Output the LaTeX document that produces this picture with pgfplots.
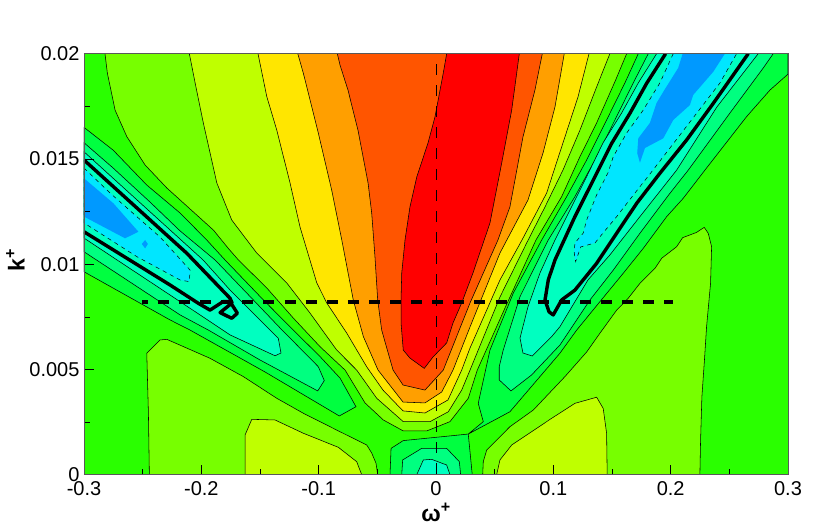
\documentclass[border=0pt]{standalone}
\usepackage{pgfplots}
\usepackage{fontspec}
\setmainfont{Liberation Sans}
\pgfplotsset{compat=1.18}

\definecolor{cGreen}{HTML}{2AFF00}
\definecolor{cLime}{HTML}{77FF00}
\definecolor{cYg}{HTML}{BFFF00}
\definecolor{cYellow}{HTML}{FFE600}
\definecolor{cOrange}{HTML}{FF9F00}
\definecolor{cOrRed}{HTML}{FF5500}
\definecolor{cRed}{HTML}{FF0000}
\definecolor{cL1}{HTML}{00FF40}
\definecolor{cL2}{HTML}{00FF80}
\definecolor{cL3}{HTML}{00FFC0}
\definecolor{cCyan}{HTML}{00E6FF}
\definecolor{cBlue}{HTML}{0099FF}

\pgfplotsset{
  lev/.style={fill=#1, draw=black, line width=0.55pt},
  levd/.style={fill=#1, draw=black, line width=0.5pt, dash pattern=on 4pt off 4pt},
  levn/.style={fill=#1, draw=none},
}

\begin{document}
\begin{tikzpicture}
\path[use as bounding box] (-84pt,-54.3pt) rectangle (746pt,474.7pt);
\begin{axis}[
  scale only axis, width=704pt, height=421pt,
  xmin=-0.3, xmax=0.3, ymin=0, ymax=0.02,
  axis on top,
  scaled x ticks=false, scaled y ticks=false,
  tick align=inside, xtick pos=bottom, ytick pos=left,
  xtick={-0.3,-0.2,-0.1,0,0.1,0.2,0.3},
  xticklabels={-0.3,-0.2,-0.1,0,0.1,0.2,0.3},
  ytick={0,0.005,0.01,0.015,0.02},
  yticklabels={0,0.005,0.01,0.015,0.02},
  minor x tick num=1, minor y tick num=1,
  major tick length=10pt, minor tick length=6pt,
  tick style={black, line width=0.5pt},
  axis line style={black!65, line width=0.8pt},
  tick label style={font=\fontsize{20}{24}\selectfont},
  xticklabel style={yshift=-3pt},
  yticklabel style={xshift=-1pt},
  xlabel={\textbf{ω\textsuperscript{+}}},
  ylabel={\textbf{k\textsuperscript{+}}},
  label style={font=\fontsize{23}{24}\selectfont},
  xlabel style={yshift=-1pt},
  ylabel style={yshift=-2pt, xshift=4pt},
]
% background level
\addplot[levn=cGreen] coordinates {(-0.3,0)(0.3,0)(0.3,0.02)(-0.3,0.02)} -- cycle;

% high side, outermost first
\addplot[lev=cLime] coordinates {(-0.2821,0.02)(-0.2801,0.01908)(-0.2735,0.01732)(-0.2635,0.01606)(-0.2479,0.01471)(-0.2294,0.01362)(-0.1897,0.01162)(-0.1770,0.01075)(-0.1684,0.01020)(-0.1442,0.00887)(-0.1216,0.00744)(-0.0988,0.00608)(-0.0775,0.00497)(-0.0605,0.00341)(-0.0449,0.00260)(-0.0279,0.00208)(-0.0079,0.00208)(0.0119,0.00252)(0.0275,0.00363)(0.0352,0.00497)(0.0588,0.00792)(0.0852,0.01115)(0.1071,0.01321)(0.1227,0.01511)(0.1369,0.01671)(0.1525,0.01867)(0.1625,0.02)} -- cycle;
\addplot[lev=cLime] coordinates {(-0.2443,0)(-0.2451,0.00292)(-0.2465,0.00577)(-0.2352,0.00640)(-0.2294,0.00643)(-0.1926,0.00553)(-0.1642,0.00466)(-0.1357,0.00363)(-0.1131,0.00292)(-0.0846,0.00212)(-0.0648,0.00157)(-0.0590,0.00141)(-0.0548,0.00103)(-0.0511,0.00054)(-0.0497,0)} -- cycle;
\addplot[lev=cLime] coordinates {(0.0398,0)(0.0403,0.00062)(0.0432,0.00117)(0.0630,0.00228)(0.0829,0.00307)(0.1099,0.00466)(0.1284,0.00583)(0.1397,0.00672)(0.1540,0.00782)(0.1638,0.00838)(0.1738,0.00909)(0.1866,0.00980)(0.1923,0.01028)(0.2051,0.01083)(0.2102,0.01126)(0.2221,0.01151)(0.2286,0.01175)(0.2320,0.01147)(0.2349,0.01083)(0.2340,0.00909)(0.2306,0.00703)(0.2288,0.00545)(0.2266,0.00369)(0.2255,0.00165)(0.2249,0)} -- cycle;

\addplot[lev=cYg] coordinates {(-0.2102,0.02)(-0.2053,0.01861)(-0.1983,0.01671)(-0.1868,0.01386)(-0.1741,0.01210)(-0.1528,0.01053)(-0.1272,0.00911)(-0.1074,0.00768)(-0.0846,0.00592)(-0.0676,0.00497)(-0.0505,0.00363)(-0.0279,0.00252)(-0.0051,0.00252)(0.0105,0.00299)(0.0219,0.00402)(0.0290,0.00497)(0.0545,0.00844)(0.0773,0.01101)(0.0929,0.01272)(0.1082,0.01447)(0.1227,0.01637)(0.1369,0.01842)(0.1482,0.02)} -- cycle;
\addplot[lev=cYg] coordinates {(-0.1627,0)(-0.1627,0.00189)(-0.1570,0.00263)(-0.1372,0.00260)(-0.1131,0.00197)(-0.0832,0.00130)(-0.0676,0.00062)(-0.0633,0)} -- cycle;
\addplot[lev=cYg] coordinates {(0.0517,0)(0.0545,0.00070)(0.0645,0.00141)(0.0986,0.00268)(0.1184,0.00339)(0.1369,0.00368)(0.1425,0.00315)(0.1454,0.00197)(0.1459,0)} -- cycle;

\addplot[lev=cYellow] coordinates {(-0.1517,0.02)(-0.1442,0.01796)(-0.1357,0.01637)(-0.1244,0.01386)(-0.1159,0.01177)(-0.1016,0.00911)(-0.0931,0.00816)(-0.0761,0.00673)(-0.0590,0.00512)(-0.0452,0.00402)(-0.0281,0.00303)(-0.0094,0.00293)(0.0102,0.00355)(0.0219,0.00497)(0.0290,0.00602)(0.0545,0.00925)(0.0733,0.01115)(0.0943,0.01338)(0.1082,0.01576)(0.1210,0.01794)(0.1304,0.02)} -- cycle;
\addplot[lev=cOrange] coordinates {(-0.1178,0.02)(-0.1131,0.01908)(-0.1003,0.01623)(-0.0889,0.01352)(-0.0803,0.01115)(-0.0705,0.00830)(-0.0619,0.00656)(-0.0494,0.00497)(-0.0281,0.00345)(-0.0094,0.00341)(0.0049,0.00393)(0.0145,0.00497)(0.0290,0.00702)(0.0545,0.01053)(0.0784,0.01305)(0.0912,0.01528)(0.1014,0.01747)(0.1093,0.02)} -- cycle;
\addplot[lev=cOrRed] coordinates {(-0.0841,0.02)(-0.0818,0.01946)(-0.0750,0.01827)(-0.0665,0.01637)(-0.0579,0.01386)(-0.0548,0.01243)(-0.0520,0.01034)(-0.0497,0.00830)(-0.0463,0.00687)(-0.0366,0.00497)(-0.0281,0.00426)(-0.0094,0.00402)(0.0062,0.00497)(0.0290,0.00816)(0.0528,0.01115)(0.0630,0.01272)(0.0741,0.01604)(0.0843,0.01827)(0.0906,0.02)} -- cycle;
\addplot[lev=cRed] coordinates {(0.0091,0.02)(0.0062,0.01908)(-0.0009,0.01699)(-0.0068,0.01576)(-0.0164,0.01414)(-0.0222,0.01272)(-0.0264,0.01115)(-0.0292,0.00958)(-0.0298,0.00830)(-0.0298,0.00721)(-0.0279,0.00592)(-0.0222,0.00554)(-0.0100,0.00505)(-0.0026,0.00559)(0.0091,0.00626)(0.0145,0.00721)(0.0219,0.00816)(0.0315,0.00958)(0.0460,0.01196)(0.0560,0.01481)(0.0645,0.01732)(0.0710,0.02)} -- cycle;

% low side, left ridge / right ridge / centre
\addplot[lev=cL1] coordinates {(-0.3,0.01650)(-0.2752,0.01542)(-0.2465,0.01376)(-0.2181,0.01243)(-0.1954,0.01115)(-0.1798,0.01020)(-0.1471,0.00830)(-0.1216,0.00687)(-0.0988,0.00561)(-0.0818,0.00459)(-0.0682,0.00323)(-0.0824,0.00279)(-0.1457,0.00488)(-0.2096,0.00687)(-0.2266,0.00735)(-0.3,0.00964)} -- cycle;
\addplot[lev=cL1] coordinates {(0.1724,0.02)(0.1610,0.01861)(0.1454,0.01685)(0.1284,0.01495)(0.1114,0.01321)(0.0901,0.01115)(0.0659,0.00863)(0.0460,0.00592)(0.0360,0.00339)(0.0403,0.00252)(0.0275,0.00193)(0.0630,0.00299)(0.1056,0.00577)(0.1199,0.00687)(0.1397,0.00822)(0.1596,0.00957)(0.1766,0.01075)(0.1966,0.01226)(0.2107,0.01313)(0.2292,0.01447)(0.2647,0.01701)(0.2846,0.01827)(0.3,0.01903)(0.3,0.02)} -- cycle;
\addplot[lev=cL1] coordinates {(-0.0392,0)(-0.0383,0.00125)(-0.0279,0.00162)(0.0275,0.00193)(0.0309,0)} -- cycle;

\addplot[lev=cL2] coordinates {(-0.3,0.01577)(-0.2752,0.01457)(-0.2437,0.01295)(-0.2181,0.01158)(-0.1883,0.01020)(-0.1613,0.00863)(-0.1329,0.00697)(-0.1003,0.00513)(-0.0952,0.00447)(-0.1008,0.00398)(-0.1500,0.00545)(-0.1940,0.00687)(-0.2181,0.00759)(-0.3,0.01059)} -- cycle;
\addplot[lev=cL2] coordinates {(0.1809,0.02)(0.1681,0.01861)(0.1525,0.01685)(0.1355,0.01495)(0.1184,0.01321)(0.0957,0.01115)(0.0716,0.00846)(0.0573,0.00592)(0.0539,0.00513)(0.0539,0.00450)(0.0639,0.00398)(0.0815,0.00474)(0.1056,0.00616)(0.1312,0.00830)(0.1511,0.00972)(0.1738,0.01147)(0.1994,0.01337)(0.2150,0.01447)(0.2505,0.01718)(0.2789,0.01932)(0.2874,0.02)} -- cycle;
\addplot[lev=cL2] coordinates {(-0.0292,0)(-0.0284,0.00070)(-0.0122,0.00125)(0.0091,0.00125)(0.0199,0.00062)(0.0210,0)} -- cycle;

\addplot[lev=cL3] coordinates {(-0.3,0.01534)(-0.1985,0.01020)(-0.1755,0.00877)(-0.1528,0.00751)(-0.1344,0.00648)(-0.1321,0.00578)(-0.1372,0.00565)(-0.1755,0.00664)(-0.2181,0.00822)(-0.3,0.01124)} -- cycle;
\addplot[lev=cL3] coordinates {(0.1880,0.02)(0.1724,0.01861)(0.1582,0.01718)(0.1423,0.01576)(0.1284,0.01416)(0.1114,0.01226)(0.1014,0.01115)(0.0886,0.00958)(0.0784,0.00798)(0.0716,0.00649)(0.0741,0.00578)(0.0820,0.00564)(0.0986,0.00656)(0.1056,0.00703)(0.1295,0.00925)(0.1482,0.01044)(0.1738,0.01226)(0.2051,0.01447)(0.2394,0.01747)(0.2746,0.02)} -- cycle;
\addplot[lev=cL3] coordinates {(-0.0164,0)(-0.0108,0.00070)(-0.0037,0.00073)(0.0091,0.00046)(0.0119,0)} -- cycle;

\addplot[levd=cCyan] coordinates {(-0.3,0.01457)(-0.2778,0.01338)(-0.2550,0.01226)(-0.2352,0.01129)(-0.2096,0.00972)(-0.2102,0.00917)(-0.2181,0.00925)(-0.2550,0.01036)(-0.3,0.01196)} -- cycle;
\addplot[levd=cCyan] coordinates {(0.2022,0.02)(0.1908,0.01861)(0.1766,0.01732)(0.1625,0.01623)(0.1511,0.01511)(0.1465,0.01433)(0.1369,0.01329)(0.1284,0.01210)(0.1255,0.01148)(0.1184,0.01101)(0.1178,0.01053)(0.1190,0.01012)(0.1233,0.01082)(0.1355,0.01101)(0.1423,0.01148)(0.1540,0.01226)(0.1638,0.01297)(0.1849,0.01447)(0.2420,0.01861)(0.2562,0.02)} -- cycle;

\addplot[levn=cBlue] coordinates {(-0.3,0.01408)(-0.2749,0.01289)(-0.2536,0.01154)(-0.2650,0.01123)(-0.3,0.01226)} -- cycle;
\addplot[levn=cBlue] coordinates {(-0.2479,0.01115)(-0.2507,0.01096)(-0.2479,0.01075)(-0.2456,0.01096)} -- cycle;
\addplot[levn=cBlue] coordinates {(0.2102,0.02)(0.2064,0.01932)(0.1937,0.01819)(0.1880,0.01766)(0.1823,0.01671)(0.1724,0.01598)(0.1715,0.01528)(0.1738,0.01482)(0.1781,0.01552)(0.1937,0.01598)(0.2022,0.01685)(0.2164,0.01756)(0.2192,0.01804)(0.2363,0.01914)(0.2462,0.02)} -- cycle;

% heavy contour
\addplot[black, line width=3.4pt, line join=round] coordinates {(-0.3,0.01154)(-0.2266,0.00901)(-0.2025,0.00814)(-0.1926,0.00782)(-0.1815,0.00822)(-0.1755,0.00822)(-0.1693,0.00767)(-0.1741,0.00743)(-0.1840,0.00770)(-0.1738,0.00816)(-0.1755,0.00838)(-0.2124,0.01052)(-0.3,0.01495)};
\addplot[black, line width=3.4pt, line join=round] coordinates {(0.2661,0.02)(0.2363,0.01764)(0.2136,0.01590)(0.1908,0.01432)(0.1710,0.01289)(0.1540,0.01147)(0.1369,0.01004)(0.1184,0.00877)(0.1071,0.00830)(0.0999,0.00759)(0.0963,0.00774)(0.0929,0.00830)(0.0957,0.00925)(0.1014,0.01020)(0.1184,0.01226)(0.1355,0.01416)(0.1497,0.01574)(0.1653,0.01717)(0.1795,0.01859)(0.1957,0.02)};

% reference lines
\addplot[black, line width=0.5pt, dash pattern=on 11pt off 10pt] coordinates {(0,0.0195)(0,0)};
\addplot[black, line width=4pt, dash pattern=on 11pt off 10.1pt, dash phase=5pt] coordinates {(-0.2507,0.0082)(0.2019,0.0082)};
\end{axis}
\end{tikzpicture}
\end{document}
